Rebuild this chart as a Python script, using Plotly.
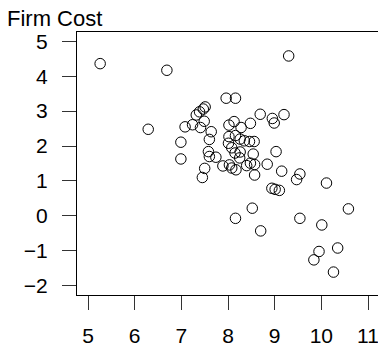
import plotly.graph_objects as go

x_vals = [5.26, 6.69, 9.30, 7.96, 8.16, 7.51, 7.47, 7.39, 7.32, 8.69,
          8.95, 8.99, 9.20, 7.49, 6.29, 7.08, 7.24, 7.41, 7.64, 7.60,
          6.99, 6.99, 7.58, 7.60, 7.74, 7.50, 7.45, 7.89, 8.02, 8.13,
          8.28, 8.48, 8.02, 8.16, 8.26, 8.35, 8.46, 8.56, 8.01, 8.08,
          8.15, 8.26, 8.25, 8.54, 9.03, 8.03, 8.08, 8.17, 8.40, 8.48,
          8.57, 8.57, 8.84, 9.15, 9.47, 9.54, 10.11, 8.94, 9.01, 9.10,
          8.52, 8.16, 9.54, 10.58, 10.01, 8.70, 9.95, 10.35, 9.84, 10.26]
y_vals = [4.36, 4.17, 4.58, 3.37, 3.37, 3.12, 3.06, 2.98, 2.89, 2.91,
          2.79, 2.66, 2.90, 2.71, 2.48, 2.55, 2.61, 2.53, 2.41, 2.19,
          2.11, 1.63, 1.84, 1.70, 1.68, 1.36, 1.10, 1.43, 2.60, 2.70,
          2.53, 2.65, 2.27, 2.30, 2.20, 2.15, 2.13, 2.13, 2.08, 1.95,
          1.80, 1.83, 1.66, 1.77, 1.84, 1.46, 1.37, 1.32, 1.44, 1.51,
          1.47, 1.17, 1.48, 1.28, 1.04, 1.20, 0.94, 0.79, 0.76, 0.73,
          0.22, -0.07, -0.07, 0.20, -0.26, -0.43, -1.02, -0.92, -1.26, -1.61]

x_ticks = [5, 6, 7, 8, 9, 10, 11]
y_ticks = [-2, -1, 0, 1, 2, 3, 4, 5]
title_text = "Firm Cost"

FONT = "Liberation Sans, Arial, sans-serif"

fig = go.Figure(go.Scatter(
    x=x_vals, y=y_vals, mode="markers",
    marker=dict(symbol="circle-open", size=10.5, color="black",
                line=dict(width=1, color="black")),
    hoverinfo="skip", showlegend=False, cliponaxis=False,
))

fig.update_layout(
    width=378, height=346,
    margin=dict(l=77, r=0, t=32, b=51, autoexpand=False),
    paper_bgcolor="white", plot_bgcolor="white",
    font=dict(family=FONT, size=21, color="black"),
    title=dict(text=title_text, x=7/378, xanchor="left", xref="container",
               y=1 - 18/346, yanchor="middle", yref="container",
               font=dict(family=FONT, size=22, color="black"),
               automargin=False),
)

fig.update_xaxes(
    range=[4.764, 11.214], tickvals=x_ticks, ticktext=[str(v) for v in x_ticks],
    showgrid=False, zeroline=False, showline=True, linecolor="black", linewidth=1,
    mirror=True, ticks="outside", ticklen=14, tickwidth=1, tickcolor="#333",
    ticklabelstandoff=8, automargin=False, ticklabeloverflow="allow",
    tickfont=dict(family=FONT, size=21, color="black"),
)
fig.update_yaxes(
    range=[-2.266, 5.266], tickvals=y_ticks,
    ticktext=[str(v).replace("-", "\u2212") for v in y_ticks],
    showgrid=False, zeroline=False, showline=True, linecolor="black", linewidth=1,
    mirror=False, ticks="outside", ticklen=14, tickwidth=1, tickcolor="#333",
    ticklabelstandoff=10, automargin=False, ticklabeloverflow="allow",
    tickfont=dict(family=FONT, size=21, color="black"),
)

fig.write_html(
    "out.html",
    config={"displayModeBar": False},
    post_script="document.body.style.margin='0';document.body.style.overflow='hidden';",
)
